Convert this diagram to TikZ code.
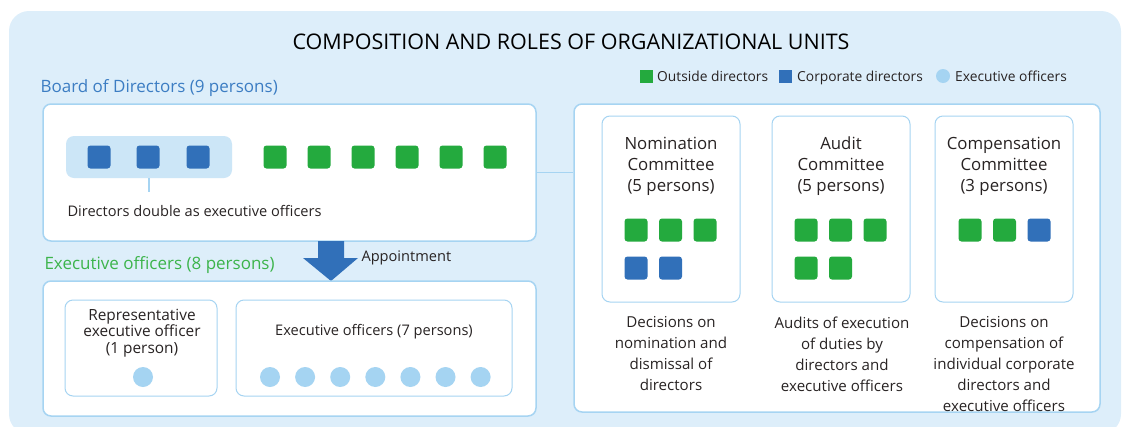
\documentclass[tikz,border=0pt]{standalone}
\usepackage{fontspec}
\setmainfont{Open Sans}
\usetikzlibrary{positioning}
\definecolor{bgBlue}{RGB}{221, 238, 250}
\definecolor{lineBlue}{RGB}{166, 212, 242}
\definecolor{hlBlue}{RGB}{204, 230, 247}
\definecolor{dirGreen}{RGB}{36, 170, 62}
\definecolor{dirBlue}{RGB}{49, 112, 185}
\definecolor{offBlue}{RGB}{165, 212, 242}
\definecolor{textGray}{RGB}{40, 35, 35}
\definecolor{labelBlue}{RGB}{60, 125, 195}
\definecolor{labelGreen}{RGB}{60, 180, 75}

\begin{document}
\begin{tikzpicture}[x=1pt, y=-1pt,
    every node/.style={text=textGray, font=\fontsize{14.6}{17}\selectfont},
    box/.style={draw=lineBlue, line width=1.5pt, fill=white, rounded corners=8pt, inner sep=0pt},
    sq/.style={minimum size=23pt, rounded corners=3pt, inner sep=0pt},
    sqg/.style={sq, fill=dirGreen},
    sqb/.style={sq, fill=dirBlue},
    off/.style={circle, fill=offBlue, minimum size=20pt, inner sep=0pt},
    lgd/.style={anchor=base west, inner sep=0pt, font=\fontsize{13.8}{16}\selectfont},
    desc/.style={align=center, font=\fontsize{15.1}{21}\selectfont}
  ]
  \useasboundingbox (0,0) rectangle (1122,426);
  \clip (0,0) rectangle (1122,426);
  % 背景
  \fill[bgBlue, rounded corners=20pt] (9,11) rectangle (1121,434);

  % タイトルと凡例
  \node[font=\fontsize{21.5}{24}\selectfont, text=black] (title) at (571,42) {COMPOSITION AND ROLES OF ORGANIZATIONAL UNITS};
  \node[sq, fill=dirGreen, minimum size=13pt, rounded corners=0pt] (lgG) at (646,76) {};
  \node[lgd] (lgGt) at (657,81) {Outside directors};
  \node[sq, fill=dirBlue, minimum size=13pt, rounded corners=0pt] (lgB) at (785,76) {};
  \node[lgd] (lgBt) at (797,81) {Corporate directors};
  \node[off, minimum size=14pt] (lgC) at (943,76) {};
  \node[lgd] (lgCt) at (955,81) {Executive officers};

  % 取締役会
  \node[anchor=west, text=labelBlue, font=\fontsize{17}{20}\selectfont] (boardLbl) at (37,88) {Board of Directors (9 persons)};
  \node[box, minimum width=493pt, minimum height=137pt] (board) at (289.5,172.5) {};
  \node[fill=hlBlue, rounded corners=8pt, minimum width=166pt, minimum height=42pt, inner sep=0pt] (dbl) at (149,157) {};
  \foreach \x [count=\i] in {99, 148, 198} {
    \node[sqb] (b\i) at (\x,157) {};
  }
  \foreach \i in {1,...,6} {
    \node[sqg] (g\i) at ({275+44*(\i-1)},157) {};
  }
  \node[anchor=west] (dblTxt) at (64,211) {Directors double as executive officers};
  \draw[lineBlue, line width=1.2pt] (dbl.south) -- ++(0,14);

  % 任命の矢印
  \fill[dirBlue] (318,241) -- (344,241) -- (344,258) -- (358,258) -- (331,281)
    -- (303,258) -- (318,258) -- cycle;
  \node[anchor=west] (appt) at (358,258) {Appointment};

  % 執行役
  \node[anchor=west, text=labelGreen, font=\fontsize{17}{20}\selectfont] (execLbl) at (41,265) {Executive officers (8 persons)};
  \node[box, minimum width=493pt, minimum height=135pt] (exec) at (289.5,348.5) {};
  \node[box, line width=1pt, minimum width=152pt, minimum height=96pt] (rep) at (141,348) {};
  \node[align=center, font=\fontsize{15.4}{16.5}\selectfont] (repTxt) at (142,333) {Representative\\executive officer\\(1 person)};
  \node[off] (r1) at (143,377) {};
  \node[box, line width=1pt, minimum width=276pt, minimum height=96pt] (offs) at (374,348) {};
  \node (offsTxt) at (374,332) {Executive officers (7 persons)};
  \foreach \i in {1,...,7} {
    \node[off] (o\i) at ({270+35.1*(\i-1)},377) {};
  }

  % 委員会
  \node[box, minimum width=526pt, minimum height=308pt] (comm) at (837,258) {};
  \draw[lineBlue, line width=1.5pt] (board.east) -- (board.east -| comm.west);
  \foreach \cx/\nm/\ttl in {671/nom/Nomination, 841/aud/Audit, 1004/comp/Compensation} {
    \node[box, line width=1pt, minimum width=138pt, minimum height=186pt] (\nm) at (\cx,209) {};
    \node[align=center, font=\fontsize{16.8}{21}\selectfont] (\nm Ttl) at (\cx,166) {\ttl\\Committee\\(\ifnum\cx=1004 3\else 5\fi\ persons)};
  }
  % 指名委員会
  \node[sqg] (n1) at (636,230) {};
  \node[sqg] (n2) at (670.5,230) {};
  \node[sqg] (n3) at (705,230) {};
  \node[sqb] (n4) at (636,268) {};
  \node[sqb] (n5) at (670.5,268) {};
  % 監査委員会
  \node[sqg] (a1) at (806,230) {};
  \node[sqg] (a2) at (840.5,230) {};
  \node[sqg] (a3) at (875,230) {};
  \node[sqg] (a4) at (806,268) {};
  \node[sqg] (a5) at (840.5,268) {};
  % 報酬委員会
  \node[sqg] (c1) at (970,230) {};
  \node[sqg] (c2) at (1004.5,230) {};
  \node[sqb] (c3) at (1039,230) {};

  \node[desc, anchor=north] (nomDsc) at (671,313) {Decisions on\\nomination and\\dismissal of\\directors};
  \node[desc, anchor=north] (audDsc) at (842,313) {Audits of execution\\of duties by\\directors and\\executive officers};
  \node[desc, anchor=north] (compDsc) at (1004,313) {Decisions on\\compensation of\\individual corporate\\directors and\\executive officers};
\end{tikzpicture}
\end{document}
